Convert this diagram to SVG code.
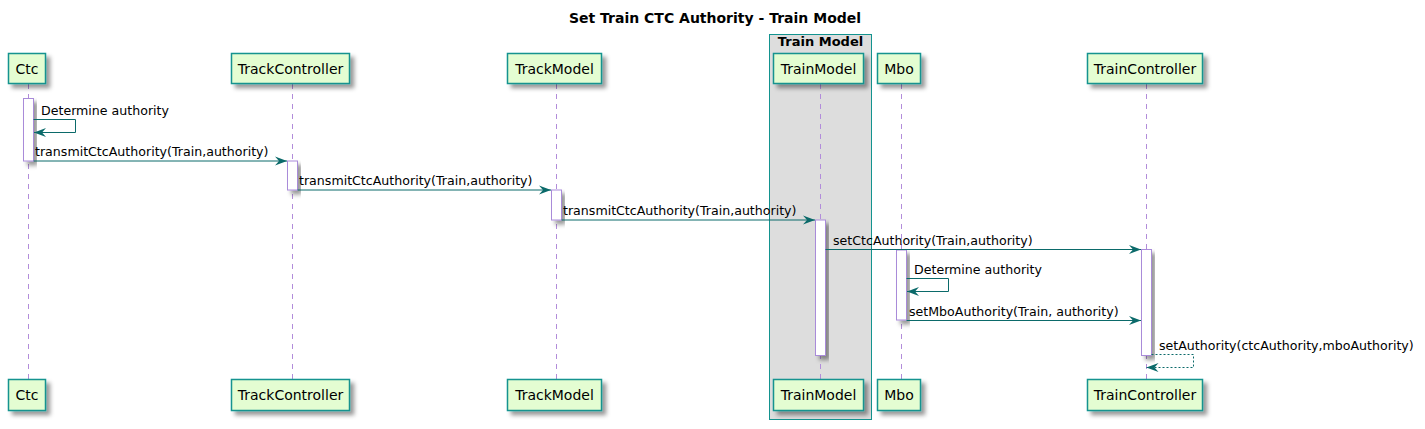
<svg xmlns="http://www.w3.org/2000/svg" width="1425" height="429" viewBox="0 0 1425 429">
<defs>
<filter id="sh" x="-20%" y="-20%" width="150%" height="160%">
<feDropShadow dx="4" dy="4" stdDeviation="2" flood-color="#000" flood-opacity="0.4"/>
</filter>
<marker id="ah" markerWidth="12" markerHeight="10" refX="12" refY="5" orient="auto" markerUnits="userSpaceOnUse">
<path d="M0,0.5 L12,5 L0,9.5 L4,5 Z" fill="#0B6A6A"/>
</marker>
</defs>
<style>
text{font-family:"DejaVu Sans",sans-serif;font-size:12.6px;fill:#000}
.title{font-weight:bold;font-size:14px}
.boxlbl{font-weight:bold;font-size:13px}
.pt{font-size:14px}
.part{fill:#E4FDD2;stroke:#13938F;stroke-width:1.5;filter:url(#sh)}
.life{stroke:#B28CDA;stroke-width:1;stroke-dasharray:5,5;fill:none}
.act{fill:#fff;stroke:#A98BD9;stroke-width:1;filter:url(#sh)}
.msg{stroke:#0B6A6A;stroke-width:1;fill:none;marker-end:url(#ah)}
.ret{stroke:#0B6A6A;stroke-width:1;fill:none;stroke-dasharray:2,2;marker-end:url(#ah)}
.ctr{text-anchor:middle}
</style>
<rect width="1425" height="429" fill="#fff"/>
<text class="title ctr" x="715" y="23">Set Train CTC Authority - Train Model</text>

<g id="box-train-model">
<rect x="769.5" y="34.5" width="102" height="385" fill="#DDDDDD" stroke="#13938F" stroke-width="1"/>
<text class="boxlbl ctr" x="820.5" y="46">Train Model</text>
</g>

<g id="lifelines">
<line class="life" x1="28.5" y1="84" x2="28.5" y2="380"/>
<line class="life" x1="292.5" y1="84" x2="292.5" y2="380"/>
<line class="life" x1="556.5" y1="84" x2="556.5" y2="380"/>
<line class="life" x1="820.5" y1="84" x2="820.5" y2="380"/>
<line class="life" x1="901.5" y1="84" x2="901.5" y2="380"/>
<line class="life" x1="1146.5" y1="84" x2="1146.5" y2="380"/>
</g>

<g id="Ctc">
<rect class="part" x="8.5" y="53.5" width="37" height="30"/>
<text class="pt ctr" x="27" y="73.5">Ctc</text>
<rect class="part" x="8.5" y="379.5" width="37" height="31"/>
<text class="pt ctr" x="27" y="400">Ctc</text>
</g>
<g id="TrackController">
<rect class="part" x="231.5" y="53.5" width="118" height="30"/>
<text class="pt ctr" x="290.5" y="73.5">TrackController</text>
<rect class="part" x="231.5" y="379.5" width="118" height="31"/>
<text class="pt ctr" x="290.5" y="400">TrackController</text>
</g>
<g id="TrackModel">
<rect class="part" x="507.5" y="53.5" width="94" height="30"/>
<text class="pt ctr" x="554.5" y="73.5">TrackModel</text>
<rect class="part" x="507.5" y="379.5" width="94" height="31"/>
<text class="pt ctr" x="554.5" y="400">TrackModel</text>
</g>
<g id="TrainModel">
<rect class="part" x="773.5" y="53.5" width="90" height="30"/>
<text class="pt ctr" x="818.5" y="73.5">TrainModel</text>
<rect class="part" x="773.5" y="379.5" width="90" height="31"/>
<text class="pt ctr" x="818.5" y="400">TrainModel</text>
</g>
<g id="Mbo">
<rect class="part" x="877.5" y="53.5" width="43" height="30"/>
<text class="pt ctr" x="899" y="73.5">Mbo</text>
<rect class="part" x="877.5" y="379.5" width="43" height="31"/>
<text class="pt ctr" x="899" y="400">Mbo</text>
</g>
<g id="TrainController">
<rect class="part" x="1087.5" y="53.5" width="115" height="30"/>
<text class="pt ctr" x="1145" y="73.5">TrainController</text>
<rect class="part" x="1087.5" y="379.5" width="115" height="31"/>
<text class="pt ctr" x="1145" y="400">TrainController</text>
</g>

<g id="activations">
<rect class="act" x="23.5" y="98.5" width="10" height="62.5"/>
<rect class="act" x="287.5" y="161" width="10" height="29"/>
<rect class="act" x="551.5" y="190" width="10" height="30"/>
<rect class="act" x="815.5" y="220" width="10" height="135.5"/>
<rect class="act" x="896.5" y="250" width="10" height="70"/>
<rect class="act" x="1141.5" y="249.5" width="10" height="106"/>
</g>

<g id="connectors">
<polyline class="msg" points="33.5,119.5 75.5,119.5 75.5,132.5 34,132.5"/>
<text x="41" y="114.5">Determine authority</text>
<line class="msg" x1="33.5" y1="161" x2="287" y2="161"/>
<text x="35" y="156">transmitCtcAuthority(Train,authority)</text>
<line class="msg" x1="297.5" y1="190" x2="551" y2="190"/>
<text x="299" y="185">transmitCtcAuthority(Train,authority)</text>
<line class="msg" x1="561.5" y1="220" x2="815" y2="220"/>
<text x="563" y="215">transmitCtcAuthority(Train,authority)</text>
<line class="msg" x1="825.5" y1="249.5" x2="1141" y2="249.5"/>
<text x="833" y="244.5">setCtcAuthority(Train,authority)</text>
<polyline class="msg" points="906.5,278.5 948.5,278.5 948.5,291.5 907,291.5"/>
<text x="914" y="273.5">Determine authority</text>
<line class="msg" x1="906.5" y1="320.5" x2="1141" y2="320.5"/>
<text x="909" y="315.5">setMboAuthority(Train, authority)</text>
<polyline class="ret" points="1151.5,354.5 1193.5,354.5 1193.5,367.5 1146.5,367.5"/>
<text x="1159" y="350">setAuthority(ctcAuthority,mboAuthority)</text>
</g>
</svg>
